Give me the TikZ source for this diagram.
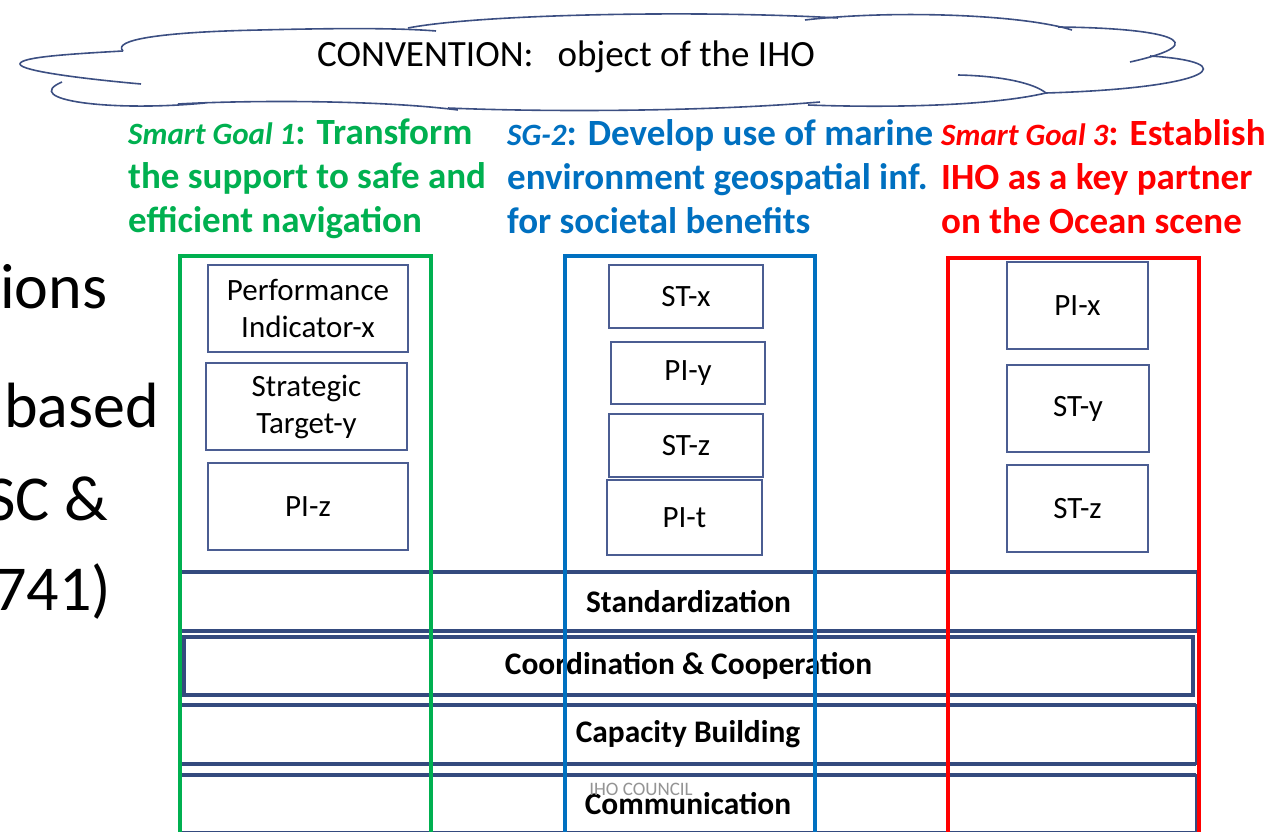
\documentclass[tikz,border=0pt]{standalone}
\usepackage{fontspec}
\setmainfont{Carlito}
\usetikzlibrary{positioning}

\definecolor{sggreen}{HTML}{00B050}
\definecolor{sgblue}{HTML}{0070C0}
\definecolor{sgred}{HTML}{FF0000}
\definecolor{navy}{HTML}{344A7E}
\definecolor{boxline}{HTML}{4B5D92}
\definecolor{cloudcol}{HTML}{3C4F82}

\newcommand{\goaltag}[1]{{\fontsize{31}{44}\selectfont\itshape #1}}

\tikzset{
	kpi/.style={draw=boxline, line width=1.3pt, fill=white, align=center, inner sep=0pt, outer sep=0pt,
		minimum width=200pt, minimum height=87pt, font=\fontsize{31}{37}\selectfont},
	goalhead/.style={anchor=north west, align=left, inner sep=0pt, font=\fontsize{37}{44}\selectfont\bfseries},
	band/.style={draw=navy, line width=1.2pt, fill=white, inner sep=0pt, outer sep=0pt,
		minimum height=59pt, font=\fontsize{31.4}{37}\selectfont\bfseries},
	navyline/.style={draw=navy, line width=4.5pt},
	column/.style={line width=4pt, anchor=north west, inner sep=0pt, outer sep=0pt, minimum height=600pt},
	cloudline/.style={draw=cloudcol, line width=1.6pt},
	sidetext/.style={anchor=base west, inner sep=0pt, font=\fontsize{64}{70}\selectfont}
}

\begin{document}
\begin{tikzpicture}[x=1pt,y=-1pt]
	\useasboundingbox (0,0) rectangle (1267,832);
	\clip (0,0) rectangle (1267,832);
	% cloud
	\draw[cloudline] (123,51) .. controls (70,54) and (20,57) .. (20,64) .. controls (20,71) and (85,79) .. (141,84);
	\draw[cloudline] (123,51) .. controls (112,40) and (160,32) .. (260,30) .. controls (340,28) and (400,28) .. (436,31);
	\draw[cloudline] (408,28) .. controls (480,14) and (700,10) .. (838,18);
	\draw[cloudline] (805,20) .. controls (890,10) and (1020,14) .. (1072,30);
	\draw[cloudline] (1058,27) .. controls (1165,28) and (1220,42) .. (1130,62);
	\draw[cloudline] (1150,56) .. controls (1245,62) and (1215,88) .. (1046,93);
	\draw[cloudline] (958,75) .. controls (1005,76) and (1035,84) .. (1046,93);
	\draw[cloudline] (1046,93) .. controls (990,106) and (890,108) .. (808,105);
	\draw[cloudline] (820,102) .. controls (700,112) and (540,112) .. (448,108);
	\draw[cloudline] (458,110) .. controls (380,100) and (250,100) .. (178,104);
	\draw[cloudline] (205,103) .. controls (110,112) and (20,100) .. (62,82);
	\node[inner sep=0pt, font=\fontsize{37}{44}\selectfont] (conv) at (566,57) {CONVENTION:\hspace{24pt}object of the IHO};
	% left side text
	\node[sidetext] (side1) at (0,308) {ions};
	\node[sidetext] (side2) at (4,427) {based};
	\node[sidetext] (side3) at (-14,520) {SC \&};
	\node[sidetext] (side4) at (-6,610) {741)};
	% goal headers
	\node[goalhead, text=sggreen] (sg1) at (128,119) {\goaltag{Smart Goal 1}: Transform\\the support to safe and\\efficient navigation};
	\node[goalhead, text=sgblue] (sg2) at (507,119) {\goaltag{SG-2}: Develop use of marine\\environment geospatial inf.\\for societal benefits};
	\node[goalhead, text=sgred] (sg3) at (941,119) {\goaltag{Smart Goal 3}: Establish\\IHO as a key partner\\on the Ocean scene};
	% targets and indicators
	\node[kpi] (pix1) at (308,308.5) {Performance\\Indicator-x};
	\node[kpi, minimum width=201pt, below = 11pt of pix1, xshift=-1.5pt] (sty1) {Strategic\\Target-y};
	\node[kpi, below = 13pt of sty1, xshift=1.5pt] (piz1) {PI-z};
	\node[kpi, minimum width=154pt, minimum height=63pt] (stx2) at (686,296.5) {ST-x};
	\node[kpi, minimum width=154pt, minimum height=62pt, below = 14pt of stx2, xshift=2pt] (piy2) {PI-y};
	\node[kpi, minimum width=154pt, minimum height=63pt, below = 10pt of piy2, xshift=-2pt] (stz2) {ST-z};
	\node[kpi, minimum width=155pt, minimum height=75pt, below = 3pt of stz2, xshift=-1.5pt] (pit2) {PI-t};
	\node[kpi, minimum width=141pt] (pix3) at (1077.5,305.5) {PI-x};
	\node[kpi, minimum width=142pt, below = 16pt of pix3, xshift=0.5pt] (sty3) {ST-y};
	\node[kpi, minimum width=141pt, below = 13pt of sty3, xshift=-0.5pt] (stz3) {ST-z};
	% bands
	\node[band, minimum width=1017pt] (std) at (688.5,601.5) {Standardization};
	\node[band, minimum width=1009pt, minimum height=58pt, line width=4.5pt, below = 6pt of std] (coop) {Coordination \& Cooperation};
	\node[band, minimum width=1016pt, below = 10pt of coop, xshift=-0.5pt] (cap) {Capacity Building};
	\node[band, minimum width=1016pt, minimum height=58pt, below = 11pt of cap] (com) {Communication};
	\foreach \b in {std,cap,com}
		\draw[navyline] (\b.north west) -- (\b.north east) (\b.south west) -- (\b.south east);
	\node[text=black!42, inner sep=0pt, font=\fontsize{19}{20}\selectfont] (council) at (641,789) {IHO COUNCIL};
	% goal columns
	\node[column, draw=sggreen, minimum width=251pt] (col1) at (180,256) {};
	\node[column, draw=sgblue, minimum width=250pt] (col2) at (565,256) {};
	\node[column, draw=sgred, minimum width=251pt, line width=4.5pt] (col3) at (948,258) {};
\end{tikzpicture}
\end{document}
